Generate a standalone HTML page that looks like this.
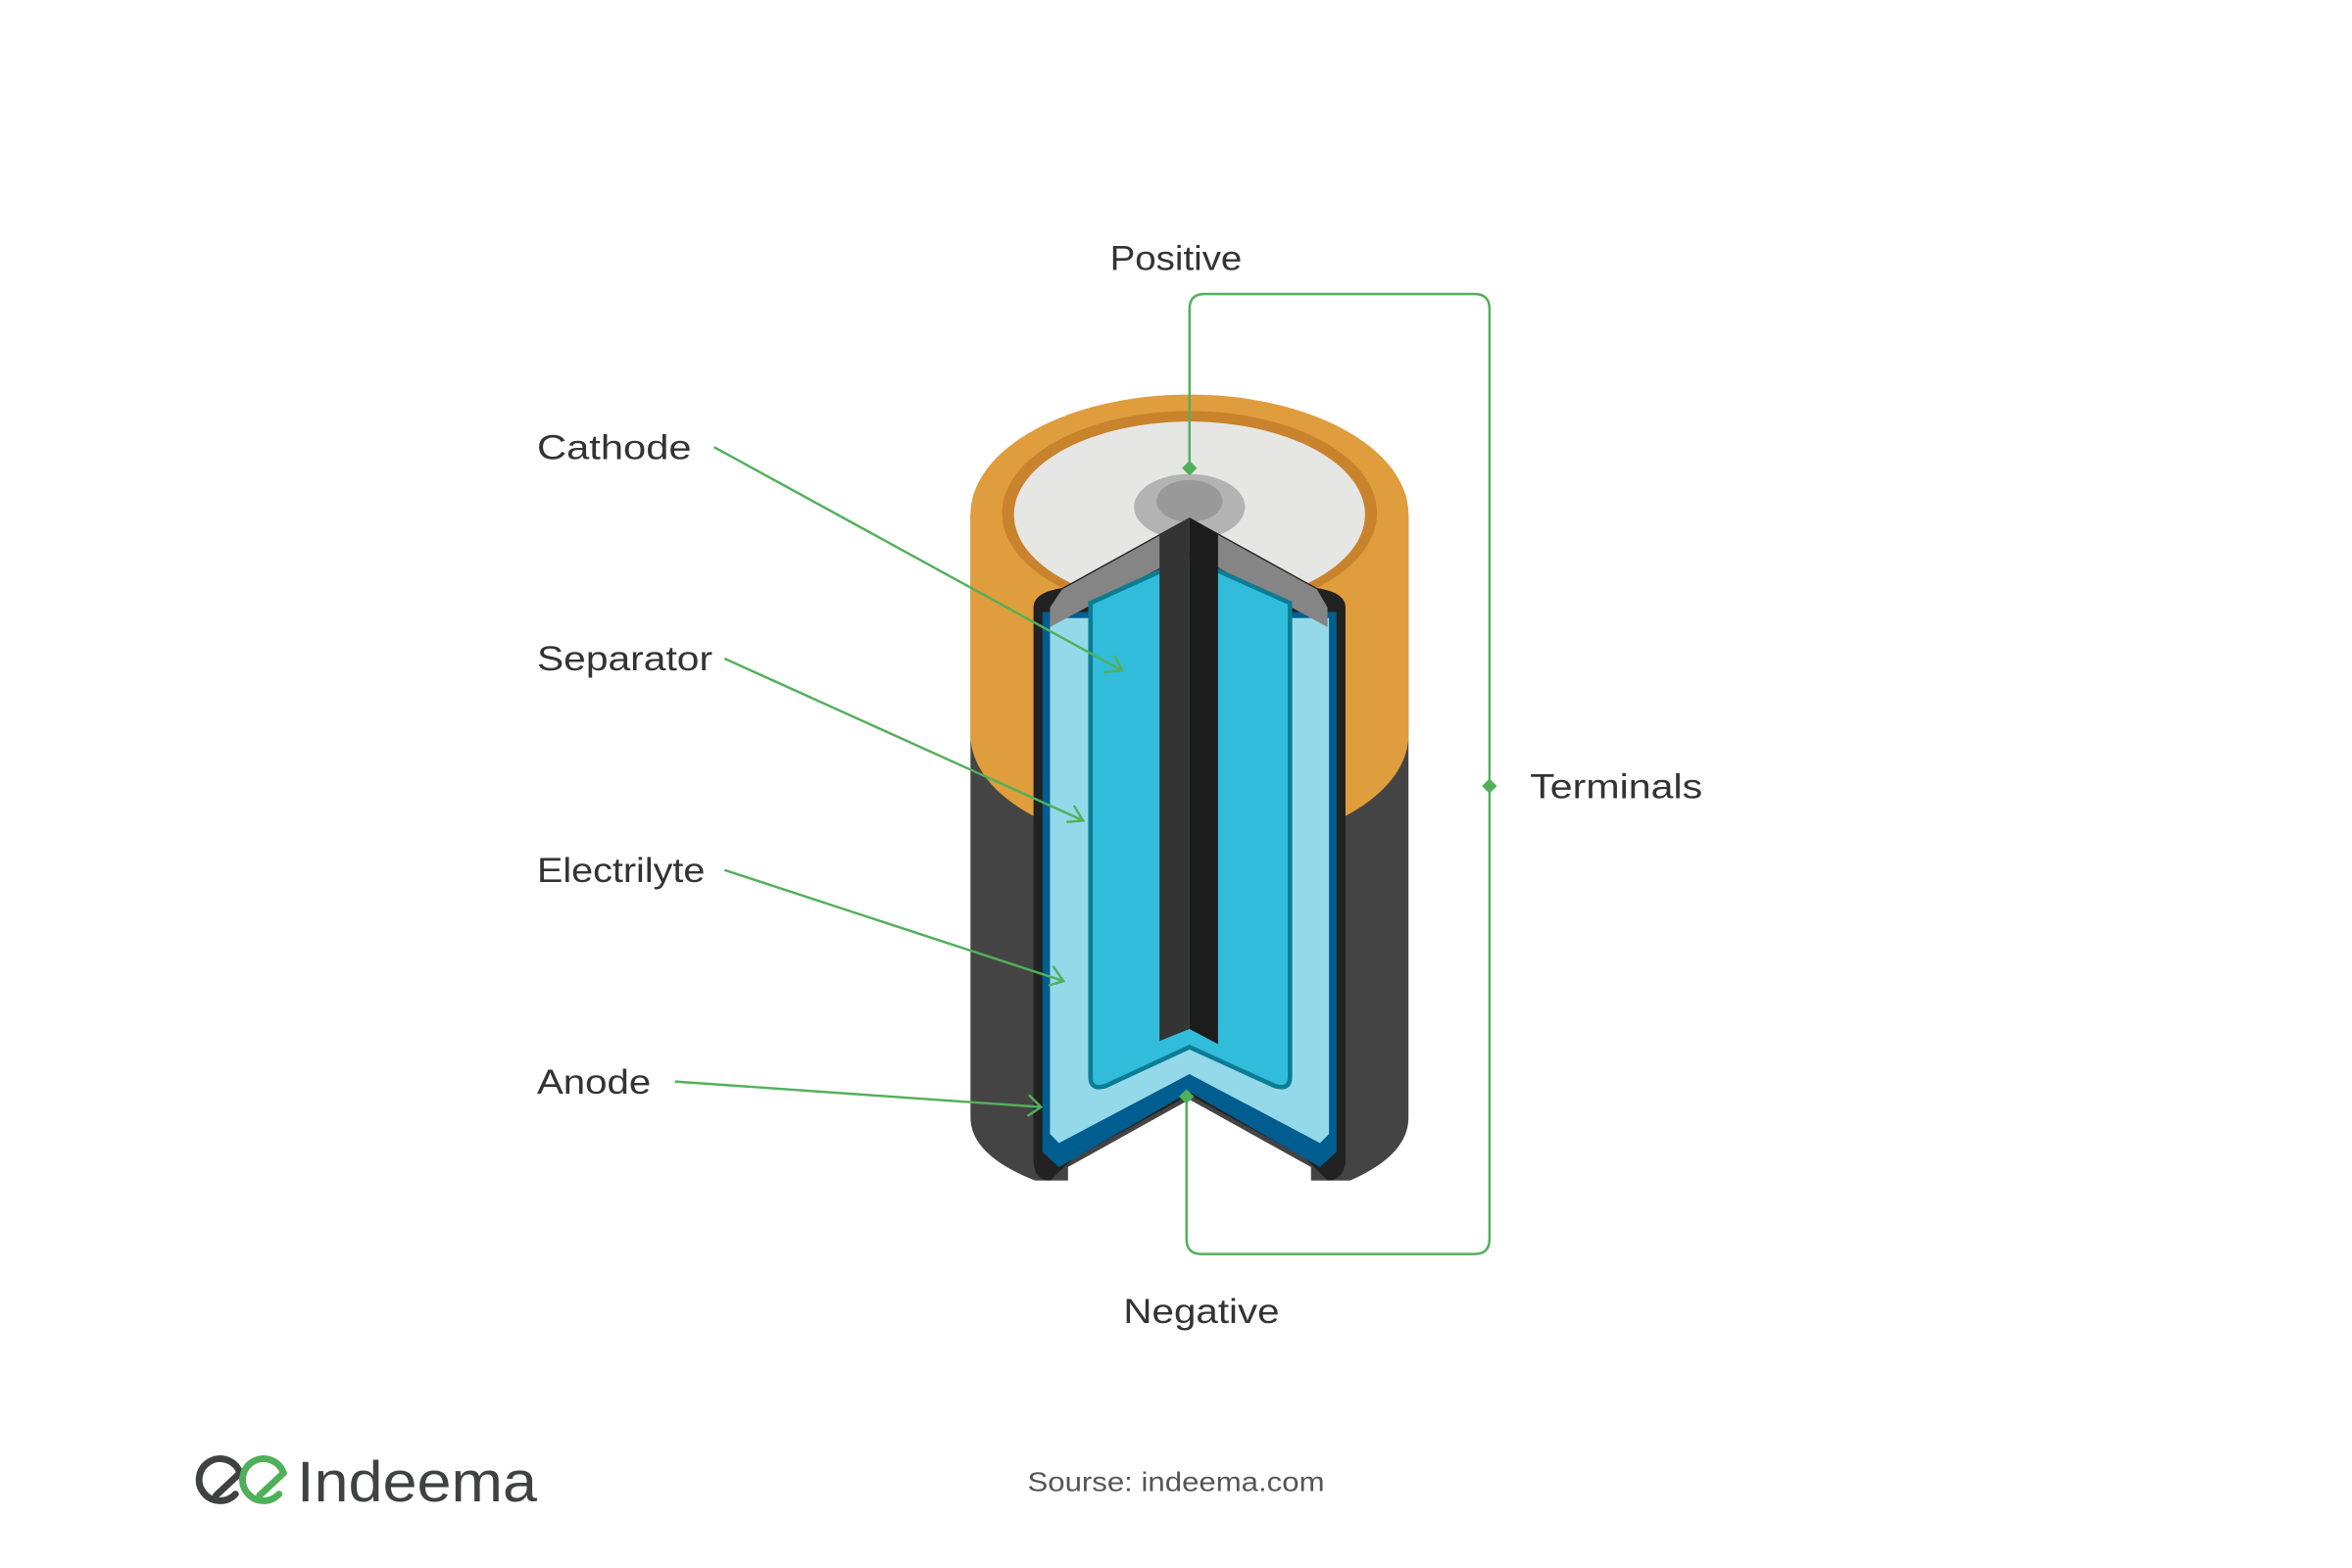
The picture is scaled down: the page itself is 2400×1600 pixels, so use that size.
<!DOCTYPE html>
<html><head><meta charset="utf-8"><style>
html,body{margin:0;padding:0;background:#fff;}
svg{display:block;}
text{font-family:"Liberation Sans",sans-serif;}
</style></head><body>
<svg width="2400" height="1600" viewBox="0 0 1568 1045.3" xmlns="http://www.w3.org/2000/svg">
<rect width="1568" height="1046" fill="#fff"/>
<path d="M647 343 L939 343 L939 745 Q939 770 900 787 L690 787 Q647 770 647 745 Z" fill="#434443"/>
<path d="M647 343 L939 343 L939 490 A146 77 0 0 1 647 490 Z" fill="#e09d3e"/>
<ellipse cx="793" cy="343" rx="146" ry="80" fill="#e09d3e"/>
<ellipse cx="793" cy="342" rx="125" ry="68" fill="#c9832d"/>
<ellipse cx="793" cy="343" rx="117" ry="62" fill="#e6e6e5"/>
<ellipse cx="793" cy="338" rx="37" ry="22" fill="#b3b3b3"/>
<ellipse cx="793" cy="334" rx="22" ry="14" fill="#999"/>
<path d="M689 405 Q689 395 708 392 L793 345 L878 392 Q897 395 897 405 L897 775 Q895 787 885 787 L870 772 L793 730 L716 772 L700 787 Q690 787 689 775 Z" fill="#222"/>
<path d="M712 800 L712 778 L793 733 L874 778 L874 800 Z" fill="#fff"/>
<path d="M695 408 L891 408 L891 768 L880 778 L793 728 L706 778 L695 768 Z" fill="#005d8f"/>
<path d="M700 412 L886 412 L886 756 L880 762 L793 716 L706 762 L700 756 Z" fill="#93d9ea"/>
<path d="M700 405 L708 393 L793 346 L878 393 L885 405 L885 418 L793 368 L700 418 Z" fill="#858585"/>
<path d="M727 402 L793 372 L860 402 L860 718 Q860 727 850 724 L793 698 L737 724 Q727 727 727 718 Z" fill="#31bcdb" stroke="#0b7d93" stroke-width="3"/>
<path d="M773 356 L793 345 L793 686 L773 694 Z" fill="#333433"/>
<path d="M793 345 L812 356 L812 696 L793 686 Z" fill="#1c1c1c"/>
<g stroke="#52b05a" stroke-width="1.6" fill="none">
<path d="M793 312 L793 206 Q793 196 803 196 L983 196 Q993 196 993 206 L993 826 Q993 836 983 836 L801 836 Q791 836 791 826 L791 731"/>
<line x1="476" y1="298" x2="748" y2="447"/>
<polyline points="736,448 748,447 743,437"/>
<line x1="483" y1="439" x2="722" y2="547"/>
<polyline points="711,548 722,547 716,537"/>
<line x1="483" y1="580" x2="709" y2="654"/>
<polyline points="699,657 709,654 702,644"/>
<line x1="450" y1="721" x2="694" y2="738"/>
<polyline points="685,744 694,738 686,730"/>
</g>
<g fill="#52b05a">
<path d="M793 307 L798 312 L793 317 L788 312 Z"/>
<path d="M993 519 L998 524 L993 529 L988 524 Z"/>
<path d="M791 726 L796 731 L791 736 L786 731 Z"/>
</g>
<g fill="#333" font-size="23">
<text x="740" y="180" textLength="88" lengthAdjust="spacingAndGlyphs">Positive</text>
<text x="1020" y="532" textLength="115" lengthAdjust="spacingAndGlyphs">Terminals</text>
<text x="749" y="882" textLength="104" lengthAdjust="spacingAndGlyphs">Negative</text>
<text x="358" y="306" textLength="103" lengthAdjust="spacingAndGlyphs">Cathode</text>
<text x="358" y="447" textLength="117" lengthAdjust="spacingAndGlyphs">Separator</text>
<text x="358" y="588" textLength="112" lengthAdjust="spacingAndGlyphs">Electrilyte</text>
<text x="358" y="729" textLength="76" lengthAdjust="spacingAndGlyphs">Anode</text>
</g>
<text x="685" y="994" font-size="18" fill="#555" textLength="198" lengthAdjust="spacingAndGlyphs">Sourse: indeema.com</text>
<g fill="none" stroke-width="4.5" stroke-linecap="round">
<path d="M160 982 A14 14 0 1 0 157 996" stroke="#404241"/>
<path d="M144 997 L160 982" stroke="#404241"/>
<path d="M189 982 A14 14 0 1 0 186 996" stroke="#4fb05a"/>
<path d="M173 997 L189 982" stroke="#4fb05a"/>
</g>
<text x="198" y="1001" font-size="38" fill="#404241" textLength="160" lengthAdjust="spacingAndGlyphs">Indeema</text>
</svg>
</body></html>
